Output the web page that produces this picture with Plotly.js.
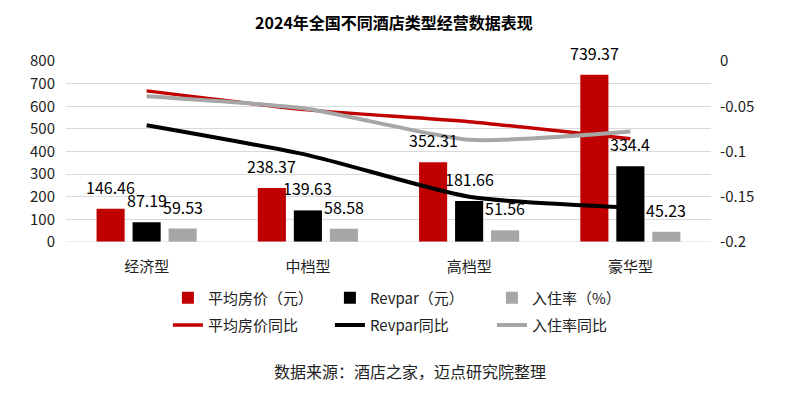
<!DOCTYPE html>
<html>
<head>
<meta charset="utf-8">
<script src="https://cdn.plot.ly/plotly-3.0.1.min.js"></script>
<style>html,body{margin:0;padding:0;background:#fff;}#chart{width:800px;height:396px;}</style>
</head>
<body>
<div id="chart"></div>
<script>
var categories = ['经济型', '中档型', '高档型', '豪华型'];
var avgPrice = [146.46, 238.37, 352.31, 739.37];
var revpar = [87.19, 139.63, 181.66, 334.4];
var occupancy = [59.53, 58.58, 51.56, 45.23];
var avgPriceYoY = [-0.033, -0.054, -0.067, -0.086];
var revparYoY = [-0.071, -0.104, -0.150, -0.162];
var occupancyYoY = [-0.039, -0.053, -0.087, -0.078];
var leftTicks = [0, 100, 200, 300, 400, 500, 600, 700, 800];
var rightTicks = [-0.2, -0.15, -0.1, -0.05, 0];

var RED = '#C00000', BLACK = '#000000', GRAY = '#A6A6A6';
var FONT = '"Noto Sans CJK SC", "DejaVu Sans", sans-serif';

function barTrace(name, y, color) {
  return {type: 'bar', name: name, x: categories, y: y, marker: {color: color},
          legend: 'legend', hoverinfo: 'skip'};
}
function lineTrace(name, y, color, w) {
  return {type: 'scatter', mode: 'lines', name: name, x: categories, y: y, yaxis: 'y2',
          line: {color: color, width: w, shape: 'spline', smoothing: 0.6},
          legend: 'legend2', hoverinfo: 'skip'};
}

var traces = [
  barTrace('平均房价（元）', avgPrice, RED),
  barTrace('Revpar（元）', revpar, BLACK),
  barTrace('入住率（%）', occupancy, GRAY),
  lineTrace('平均房价同比', avgPriceYoY, RED, 3.5),
  lineTrace('Revpar同比', revparYoY, BLACK, 4),
  lineTrace('入住率同比', occupancyYoY, GRAY, 4)
];

var annotations = [];
[avgPrice, revpar, occupancy].forEach(function (series, si) {
  series.forEach(function (v, ci) {
    annotations.push({x: categories[ci], y: v, xref: 'x', yref: 'y', text: String(v),
      showarrow: false, xshift: (si - 1) * 36, yshift: 22, yanchor: 'middle',
      font: {size: 16, color: '#000', family: FONT}});
  });
});
annotations.push({x: 0.533, y: -0.715, xref: 'paper', yref: 'paper', text: '数据来源：酒店之家，迈点研究院整理',
  showarrow: false, xanchor: 'center', yanchor: 'middle', font: {size: 16, color: '#222', family: FONT}});

var layout = {
  width: 800, height: 396,
  margin: {l: 66, r: 89, t: 61, b: 154},
  paper_bgcolor: '#fff', plot_bgcolor: '#fff',
  font: {family: FONT, color: '#222', size: 15},
  title: {text: '<b>2024年全国不同酒店类型经营数据表现</b>', x: 0.4925, xanchor: 'center', y: 0.94, yanchor: 'middle',
          font: {size: 16, color: '#000', family: FONT}},
  barmode: 'group', bargap: 0.33, bargroupgap: 0.22,
  xaxis: {type: 'category', showgrid: false, ticks: '', showline: false, zeroline: false,
          ticklabelstandoff: 14, tickfont: {size: 15, color: '#222'}},
  yaxis: {range: [0, 800], tickvals: leftTicks, ticktext: leftTicks.map(String), showgrid: true,
          gridcolor: '#D9D9D9', gridwidth: 1, zeroline: false, showline: false, ticks: '',
          ticklabelstandoff: 10, tickfont: {size: 15, color: '#222'}},
  yaxis2: {range: [-0.2, 0], overlaying: 'y', side: 'right', tickvals: rightTicks,
           ticktext: rightTicks.map(String), showgrid: false, zeroline: false, showline: false, ticks: '',
           ticklabelstandoff: 8, tickfont: {size: 15, color: '#222'}},
  showlegend: true,
  legend: {orientation: 'h', x: 0.158, xanchor: 'left', y: -0.31, yanchor: 'middle',
           entrywidth: 117, entrywidthmode: 'pixels', font: {size: 15, color: '#222'},
           traceorder: 'normal', bgcolor: 'rgba(0,0,0,0)'},
  legend2: {orientation: 'h', x: 0.158, xanchor: 'left', y: -0.46, yanchor: 'middle',
           entrywidth: 117, entrywidthmode: 'pixels', font: {size: 15, color: '#222'},
           traceorder: 'normal', bgcolor: 'rgba(0,0,0,0)'},
  annotations: annotations,
  shapes: [{type: 'line', xref: 'paper', yref: 'y', x0: 0, x1: 1, y0: 0, y1: 0,
            line: {color: '#D9D9D9', width: 1}}]
};

Plotly.newPlot('chart', traces, layout, {displayModeBar: false, staticPlot: true});
</script>
</body>
</html>
